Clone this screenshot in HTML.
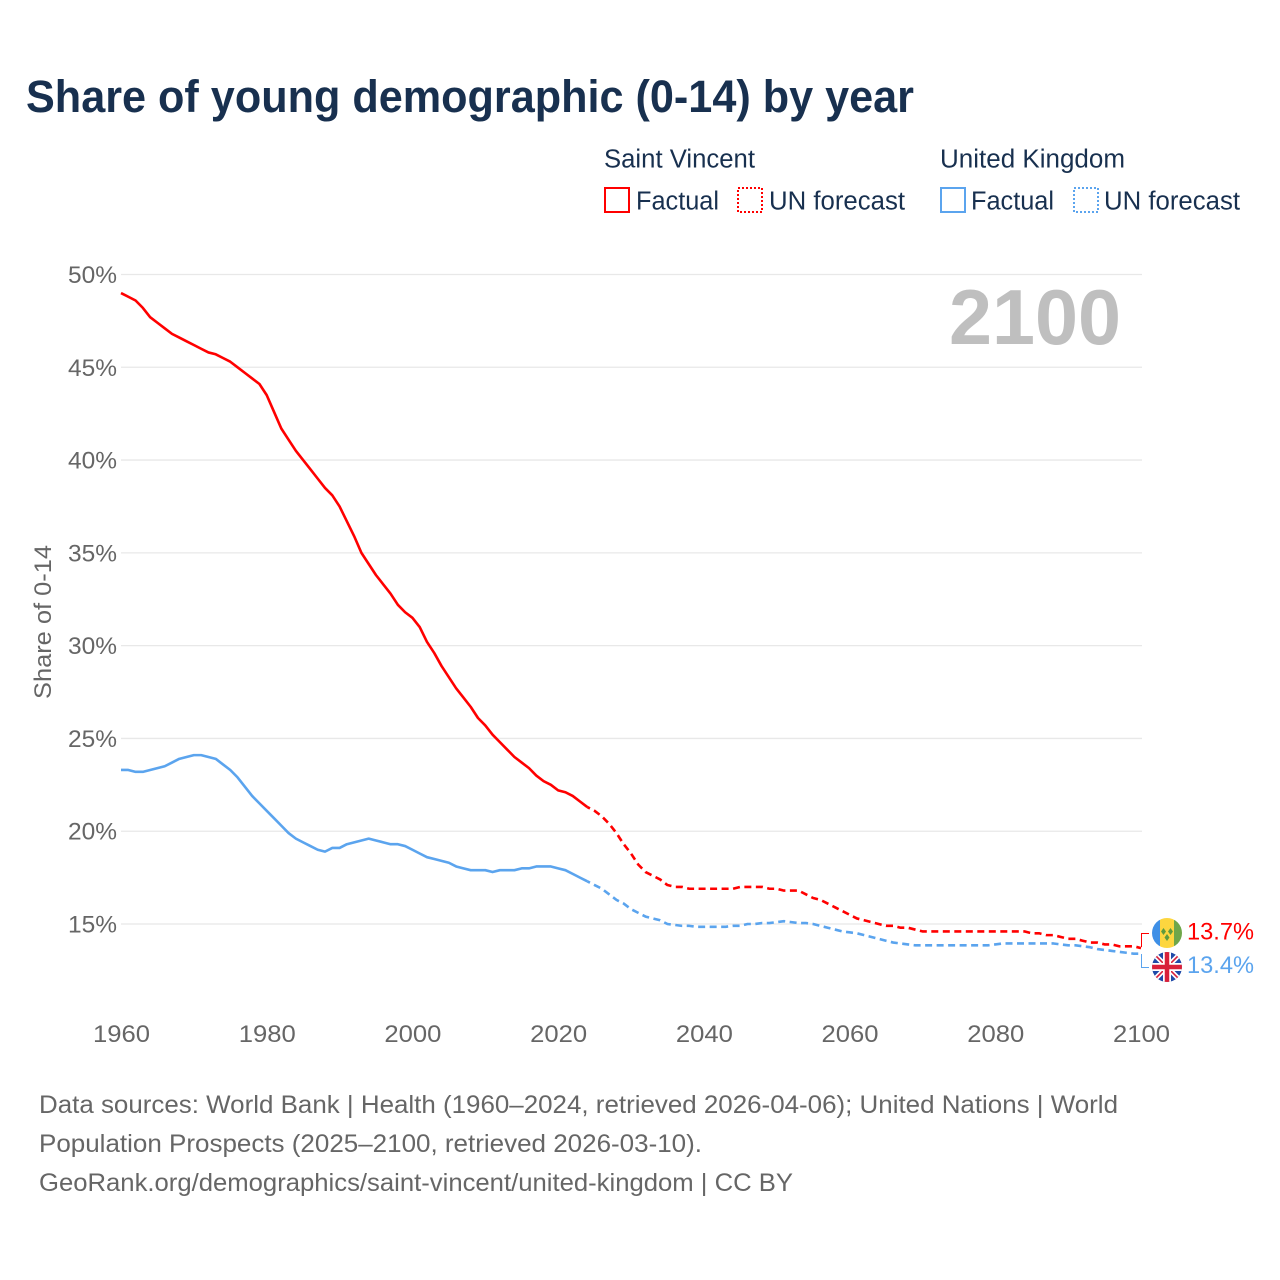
<!DOCTYPE html>
<html lang="en">
<head>
<meta charset="utf-8">
<title>Share of young demographic (0-14) by year</title>
<style>
  html, body { margin: 0; padding: 0; background: #fff; }
  svg { display: block; font-family: "Liberation Sans", sans-serif; }
  .navy { fill: #18304f; }
  .grey { fill: #666; }
</style>
</head>
<body>
<svg id="chart" xmlns="http://www.w3.org/2000/svg" width="1280" height="1280" viewBox="0 0 1280 1280">
  <rect width="1280" height="1280" fill="#fff"/>
  <text class="navy" x="26" y="112" font-size="45" font-weight="700" textLength="888" lengthAdjust="spacingAndGlyphs">Share of young demographic (0-14) by year</text>

  <g font-size="25.5">
    <text class="navy" x="604" y="167.5" textLength="151" lengthAdjust="spacingAndGlyphs">Saint Vincent</text>
    <text class="navy" x="940" y="167.5" textLength="185" lengthAdjust="spacingAndGlyphs">United Kingdom</text>
    <rect x="605" y="188" width="24" height="24" fill="none" stroke="#ff0000" stroke-width="2"/>
    <text class="navy" x="636" y="209.5" textLength="83" lengthAdjust="spacingAndGlyphs">Factual</text>
    <rect x="738" y="188" width="24" height="24" fill="none" stroke="#ff0000" stroke-width="2" stroke-dasharray="2 2"/>
    <text class="navy" x="769" y="209.5" textLength="136" lengthAdjust="spacingAndGlyphs">UN forecast</text>
    <rect x="941" y="188" width="24" height="24" fill="none" stroke="#5ba4ee" stroke-width="2"/>
    <text class="navy" x="971" y="209.5" textLength="83" lengthAdjust="spacingAndGlyphs">Factual</text>
    <rect x="1074" y="188" width="24" height="24" fill="none" stroke="#5ba4ee" stroke-width="2" stroke-dasharray="2 2"/>
    <text class="navy" x="1104" y="209.5" textLength="136" lengthAdjust="spacingAndGlyphs">UN forecast</text>
  </g>

  <g id="grid"></g>
  <g id="yticks" font-size="24"></g>
  <g id="xticks" font-size="24"></g>

  <text class="grey" transform="translate(51 699) rotate(-90)" x="0" y="0" font-size="24" textLength="154" lengthAdjust="spacingAndGlyphs">Share of 0-14</text>

  <text x="949" y="344" font-size="78" font-weight="700" fill="#bfbfbf" textLength="172" lengthAdjust="spacingAndGlyphs">2100</text>

  <g id="series"></g>

  <path d="M1141.5 947V933.5H1149" fill="none" stroke="#ff0000" stroke-width="1"/>
  <path d="M1141.5 954V967.5H1149" fill="none" stroke="#5ba4ee" stroke-width="1"/>

  <defs>
    <clipPath id="clip-sv"><circle cx="1167" cy="933" r="15"/></clipPath>
    <clipPath id="clip-uk"><circle cx="1167" cy="967" r="15"/></clipPath>
  </defs>
  <g clip-path="url(#clip-sv)">
    <rect x="1152" y="918" width="8" height="30" fill="#3e8fe6"/>
    <rect x="1160" y="918" width="14" height="30" fill="#fdd63f"/>
    <rect x="1174" y="918" width="8" height="30" fill="#6ea64a"/>
    <path d="M1163.5 928l2.5 3.5-2.5 3.5-2.500-3.500zM1170.500 928l2.500 3.500-2.500 3.500-2.500-3.500zM1167 934l2.500 3.500-2.500 3.500-2.500-3.500z" fill="#5f9a3e"/>
  </g>
  <g clip-path="url(#clip-uk)">
    <rect x="1152" y="952" width="30" height="30" fill="#1f4aa8"/>
    <path d="M1152 952L1182 982M1182 952L1152 982" stroke="#fff" stroke-width="5"/>
    <path d="M1152 952L1182 982M1182 952L1152 982" stroke="#d8203a" stroke-width="1.600"/>
    <path d="M1167 952V982M1152 967H1182" stroke="#fff" stroke-width="8"/>
    <path d="M1167 952V982M1152 967H1182" stroke="#d8203a" stroke-width="4.500"/>
  </g>
  <text x="1187" y="939.5" font-size="24" fill="#ff0000" textLength="67" lengthAdjust="spacingAndGlyphs">13.7%</text>
  <text x="1187" y="973" font-size="24" fill="#5ba4ee" textLength="67" lengthAdjust="spacingAndGlyphs">13.4%</text>

  <g class="grey" font-size="25">
    <text x="39" y="1113" textLength="1079" lengthAdjust="spacingAndGlyphs">Data sources: World Bank | Health (1960–2024, retrieved 2026-04-06); United Nations | World</text>
    <text x="39" y="1152" textLength="663" lengthAdjust="spacingAndGlyphs">Population Prospects (2025–2100, retrieved 2026-03-10).</text>
    <text x="39" y="1191" textLength="754" lengthAdjust="spacingAndGlyphs">GeoRank.org/demographics/saint-vincent/united-kingdom | CC BY</text>
  </g>
</svg>

<script>
const yTickValues = [50, 45, 40, 35, 30, 25, 20, 15];
const xTickYears = [1960, 1980, 2000, 2020, 2040, 2060, 2080, 2100];
const factualStartYear = 1960;
const forecastStartYear = 2024;

const saintVincentFactual = [
  49.0, 48.8, 48.6, 48.2, 47.7, 47.4, 47.1, 46.8, 46.6, 46.4,
  46.2, 46.0, 45.8, 45.7, 45.5, 45.3, 45.0, 44.7, 44.4, 44.1,
  43.5, 42.6, 41.7, 41.1, 40.5, 40.0, 39.5, 39.0, 38.5, 38.1,
  37.5, 36.7, 35.9, 35.0, 34.4, 33.8, 33.3, 32.8, 32.2, 31.8,
  31.5, 31.0, 30.2, 29.6, 28.9, 28.3, 27.7, 27.2, 26.7, 26.1,
  25.7, 25.2, 24.8, 24.4, 24.0, 23.7, 23.4, 23.0, 22.7, 22.5,
  22.2, 22.1, 21.9, 21.6, 21.3
];
const saintVincentForecast = [
  21.3, 21.1, 20.8, 20.4, 19.9, 19.3, 18.8, 18.2, 17.8, 17.6, 17.4,
  17.1, 17.0, 17.0, 16.9, 16.9, 16.9, 16.9, 16.9, 16.9, 16.9,
  17.0, 17.0, 17.0, 17.0, 16.9, 16.9, 16.8, 16.8, 16.8, 16.6,
  16.4, 16.3, 16.1, 15.9, 15.7, 15.5, 15.3, 15.2, 15.1, 15.0,
  14.9, 14.9, 14.8, 14.8, 14.7, 14.6, 14.6, 14.6, 14.6, 14.6,
  14.6, 14.6, 14.6, 14.6, 14.6, 14.6, 14.6, 14.6, 14.6, 14.6,
  14.5, 14.5, 14.4, 14.4, 14.3, 14.2, 14.2, 14.1, 14.0, 14.0,
  13.9, 13.9, 13.8, 13.8, 13.8, 13.7
];
const unitedKingdomFactual = [
  23.3, 23.3, 23.2, 23.2, 23.3, 23.4, 23.5, 23.7, 23.9, 24.0,
  24.1, 24.1, 24.0, 23.9, 23.6, 23.3, 22.9, 22.4, 21.9, 21.5,
  21.1, 20.7, 20.3, 19.9, 19.6, 19.4, 19.2, 19.0, 18.9, 19.1,
  19.1, 19.3, 19.4, 19.5, 19.6, 19.5, 19.4, 19.3, 19.3, 19.2,
  19.0, 18.8, 18.6, 18.5, 18.4, 18.3, 18.1, 18.0, 17.9, 17.9,
  17.9, 17.8, 17.9, 17.9, 17.9, 18.0, 18.0, 18.1, 18.1, 18.1,
  18.0, 17.9, 17.7, 17.5, 17.3
];
const unitedKingdomForecast = [
  17.3, 17.1, 16.9, 16.6, 16.3, 16.1, 15.8, 15.6, 15.4, 15.3, 15.2,
  15.0, 14.95, 14.9, 14.9, 14.85, 14.85, 14.85, 14.85, 14.85, 14.9,
  14.9, 15.0, 15.0, 15.05, 15.05, 15.1, 15.15, 15.1, 15.05, 15.05,
  15.0, 14.9, 14.8, 14.7, 14.6, 14.55, 14.5, 14.4, 14.3, 14.2,
  14.1, 14.0, 13.95, 13.9, 13.85, 13.85, 13.85, 13.85, 13.85, 13.85,
  13.85, 13.85, 13.85, 13.85, 13.85, 13.9, 13.95, 13.95, 13.95, 13.95,
  13.95, 13.95, 13.95, 13.95, 13.9, 13.85, 13.85, 13.8, 13.75, 13.65,
  13.6, 13.55, 13.5, 13.45, 13.4, 13.4
];

const SVG_NS = 'http://www.w3.org/2000/svg';
function xScale(year) { return 121 + (year - 1960) * (1020 / 140); }
function yScale(value) { return 274.5 + (50 - value) * (649.5 / 35); }
function linePath(values, startYear) {
  return values.map(function (v, i) {
    return (i ? 'L' : 'M') + xScale(startYear + i).toFixed(2) + ' ' + yScale(v).toFixed(2);
  }).join('');
}

const gridGroup = document.getElementById('grid');
const yTickGroup = document.getElementById('yticks');
const xTickGroup = document.getElementById('xticks');
const seriesGroup = document.getElementById('series');

yTickValues.forEach(function (v) {
  const line = document.createElementNS(SVG_NS, 'line');
  
  
  line.setAttribute('x1', 121);
  line.setAttribute('x2', 1142);
  line.setAttribute('y1', yScale(v));
  line.setAttribute('y2', yScale(v));
  line.setAttribute('stroke', '#e8e8e8');
  line.setAttribute('stroke-width', '1.3');
  gridGroup.appendChild(line);

  const label = document.createElementNS(SVG_NS, 'text');
  
  
  label.setAttribute('x', 68);
  label.setAttribute('y', yScale(v) + 8.5);
  label.setAttribute('fill', '#666');
  label.setAttribute('textLength', '49');
  label.setAttribute('lengthAdjust', 'spacingAndGlyphs');
  label.textContent = v + '%';
  yTickGroup.appendChild(label);
});

xTickYears.forEach(function (year) {
  const label = document.createElementNS(SVG_NS, 'text');
  
  
  label.setAttribute('x', xScale(year) - 28);
  label.setAttribute('y', 1042);
  label.setAttribute('fill', '#666');
  label.setAttribute('textLength', '57');
  label.setAttribute('lengthAdjust', 'spacingAndGlyphs');
  label.textContent = year;
  xTickGroup.appendChild(label);
});

function drawSeries(name, values, startYear, color, dashed) {
  const path = document.createElementNS(SVG_NS, 'path');
  
  
  path.setAttribute('d', linePath(values, startYear));
  path.setAttribute('fill', 'none');
  path.setAttribute('stroke', color);
  path.setAttribute('stroke-width', '2.6');
  path.setAttribute('stroke-linejoin', 'round');
  if (dashed) {
    path.setAttribute('stroke-dasharray', '7 4.5');
    path.setAttribute('stroke-dashoffset', '-7.5');
  }
  seriesGroup.appendChild(path);
}

drawSeries('line-united-kingdom-factual', unitedKingdomFactual, factualStartYear, '#5ba4ee', false);
drawSeries('line-united-kingdom-forecast', unitedKingdomForecast, forecastStartYear, '#5ba4ee', true);
drawSeries('line-saint-vincent-factual', saintVincentFactual, factualStartYear, '#ff0000', false);
drawSeries('line-saint-vincent-forecast', saintVincentForecast, forecastStartYear, '#ff0000', true);
</script>
</body>
</html>
